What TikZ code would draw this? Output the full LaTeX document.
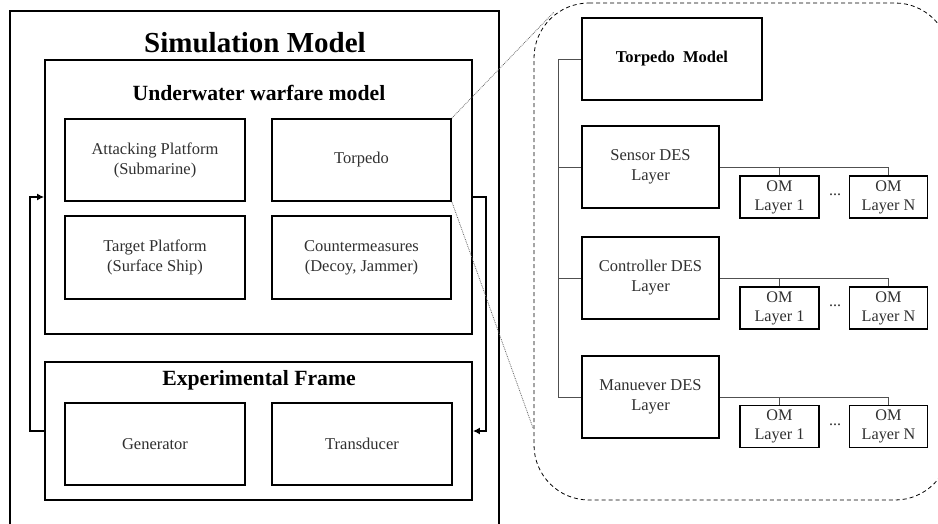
\documentclass[tikz,border=0pt]{standalone}
\usepackage{fontspec}
\setmainfont{Liberation Serif}
\usetikzlibrary{arrows.meta}
\definecolor{txt}{HTML}{303030}
\definecolor{conn}{HTML}{505050}
\tikzset{
  thickbox/.style={draw=black, line width=1.8pt, rectangle, inner sep=0pt, align=center, text=txt, font=\fontsize{16.5}{20}\selectfont},
  midbox/.style={draw=black, line width=1.6pt, rectangle, inner sep=0pt, align=center, text=txt, font=\fontsize{16.5}{20}\selectfont},
  ombox/.style={draw=black, line width=1.5pt, rectangle, inner sep=0pt, align=center, text=txt, minimum height=42pt, font=\fontsize{16.2}{19}\selectfont},
  bigtitle/.style={font=\fontsize{29}{34}\bfseries\selectfont, inner sep=0pt},
  subtitle/.style={font=\fontsize{21.7}{26}\bfseries\selectfont, inner sep=0pt},
  feedback/.style={line width=1.8pt, -{Latex[length=7pt,width=7pt]}},
  busline/.style={draw=conn, line width=0.9pt},
  zoomline/.style={draw=black!60, line width=0.8pt, densely dotted},
  region/.style={draw=black, line width=0.8pt, dash pattern=on 4pt off 3pt}
}
\begin{document}
\begin{tikzpicture}[x=1pt,y=-1pt]
\useasboundingbox (0,0) rectangle (938,524);
\clip (0,0) rectangle (938,524);
\fill[white] (0,0) rectangle (938,524);

% outer simulation model frame
\draw[line width=1.8pt] (10,540) -- (10,11) -- (499,11) -- (499,540);
\node[bigtitle] (simtitle) at (255,43) {Simulation Model};

% underwater warfare model
\node[thickbox, minimum width=427pt, minimum height=274pt] (uw) at (258.5,197) {};
\node[subtitle] (uwtitle) at (259,93) {Underwater warfare model};
\node[thickbox, minimum width=180pt, minimum height=82pt] (att) at (155,160) {Attacking Platform\\(Submarine)};
\node[thickbox, minimum width=179pt, minimum height=82pt] (tor) at (361.5,160) {Torpedo};
\node[thickbox, minimum width=180pt, minimum height=83pt] (tgt) at (155,257.5) {Target Platform\\(Surface Ship)};
\node[thickbox, minimum width=179pt, minimum height=83pt] (cm) at (361.5,257.5) {Countermeasures\\(Decoy, Jammer)};

% experimental frame
\node[thickbox, minimum width=427pt, minimum height=138pt] (ef) at (258.5,431) {};
\node[subtitle] (eftitle) at (259,380) {Experimental Frame};
\node[thickbox, minimum width=180pt, minimum height=82pt] (gen) at (155,444) {Generator};
\node[thickbox, minimum width=180pt, minimum height=82pt] (trd) at (362,444) {Transducer};

% feedback arrows
\draw[feedback] (ef.west) -- ++(-14,0) |- (uw.west);
\draw[feedback] (uw.east) -- ++(13,0) |- (ef.east);

% zoom region
\draw[region] (534,3) [rounded corners=55pt] -- (950,3) -- (950,500) -- (534,500) -- cycle;
\coordinate (zt) at (554,12);
\coordinate (zb) at (533,428);
\draw[zoomline] (tor.north east) -- (zt);
\draw[zoomline] (tor.south east) -- (zb);

% torpedo model hierarchy
\node[midbox, minimum width=180pt, minimum height=82pt, text=black, font=\fontsize{16.5}{20}\bfseries\selectfont] (tm) at (672,59) {Torpedo\ \ Model};
\node[midbox, minimum width=137pt, minimum height=82pt] (sen) at (650.5,167) {Sensor DES\\Layer};
\node[midbox, minimum width=137pt, minimum height=82pt] (con) at (650.5,278) {Controller DES\\Layer};
\node[midbox, minimum width=137pt, minimum height=82pt] (man) at (650.5,397) {Manuever DES\\Layer};

\draw[busline] (tm.west) -- ++(-23,0) |- (man.west);
\draw[busline] (sen.west) -- ++(-23,0);
\draw[busline] (con.west) -- ++(-23,0);

% OM layers
\foreach \p/\y in {s/197, c/308, m/426.5}{
  \node[ombox, minimum width=79pt] (\p1) at (779.5,\y) {OM\\Layer 1};
  \node[ombox, minimum width=78pt] (\p N) at (888.5,\y) {OM\\Layer N};
  \node[text=txt, font=\fontsize{16}{19}\selectfont, inner sep=0pt] (\p dots) at (835,\y-2) {...};
}
\draw[busline] (sen.east) -| (sN.north);
\draw[busline] (s1.north) -- (s1.north |- sen.east);
\draw[busline] (con.east) -| (cN.north);
\draw[busline] (c1.north) -- (c1.north |- con.east);
\draw[busline] (man.east) -| (mN.north);
\draw[busline] (m1.north) -- (m1.north |- man.east);
\end{tikzpicture}
\end{document}
